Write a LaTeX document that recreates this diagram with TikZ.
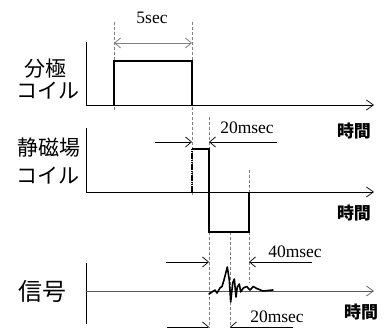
\documentclass[tikz,border=0pt]{standalone}
\usepackage{fontspec}
\setmainfont{Liberation Serif}
\newfontfamily\jp{Noto Sans CJK JP}
\usetikzlibrary{arrows.meta}
\begin{document}
\begin{tikzpicture}[x=1pt,y=-1pt,
  vaxis/.style={line width=0.9pt},
  taxis/.style={line width=0.9pt,-{Straight Barb[length=7pt,width=10pt,line width=0.7pt]}},
  pulse/.style={line width=2.6pt,line join=miter},
  guide/.style={gray,line width=0.9pt,dash pattern=on 3pt off 2pt},
  dim/.style={line width=0.7pt,-{Straight Barb[length=6pt,width=10pt,line width=0.7pt]}},
  lab/.style={font=\jp\fontsize{21}{21}\selectfont,inner sep=0pt},
  tlab/.style={font=\jp\bfseries\fontsize{17}{17}\selectfont,inner sep=0pt},
  num/.style={font=\fontsize{17.5}{17.5}\selectfont,inner sep=0pt}]
\useasboundingbox (0,0) rectangle (392,328);
% ---------- coordinates ----------
\coordinate (v1t) at (86,42);   \coordinate (o1) at (86,105);  \coordinate (e1) at (374,105);
\coordinate (v2t) at (86,128);  \coordinate (o2) at (86,192);  \coordinate (e2) at (374,192);
\coordinate (v3t) at (86,263);  \coordinate (v3b) at (86,324);
\coordinate (o3) at (86,291);   \coordinate (e3) at (374,291);
% pulse 1
\coordinate (p1a) at (114,105); \coordinate (p1b) at (114,61);
\coordinate (p1c) at (192,61);  \coordinate (p1d) at (192,105);
% pulse 2
\coordinate (p2a) at (192,192); \coordinate (p2b) at (192,149);
\coordinate (p2c) at (209,149); \coordinate (p2d) at (209,232);
\coordinate (p2e) at (249,232); \coordinate (p2f) at (249,192);
% guides
\coordinate (g1t) at (114,22);  \coordinate (g1b) at (114,110);
\coordinate (g2t) at (192,22);  \coordinate (g2b) at (192,196);
\coordinate (g3t) at (209,117); \coordinate (g3b) at (209,328);
\coordinate (g4t) at (249,170); \coordinate (g4m) at (249,192);
\coordinate (g4u) at (249,232); \coordinate (g4b) at (249,283);
\coordinate (g5t) at (230,232); \coordinate (g5b) at (230,328);
% dimension arrows
\coordinate (d5l) at (114,43);  \coordinate (d5r) at (192,43);
\coordinate (d20a) at (155,142); \coordinate (d20b) at (192,142);
\coordinate (d20c) at (277,142); \coordinate (d20d) at (209,142);
\coordinate (d40a) at (166,262); \coordinate (d40b) at (209,262);
\coordinate (d40c) at (312,262); \coordinate (d40d) at (249,262);
\coordinate (d2a) at (167,327);  \coordinate (d2b) at (209,327);
\coordinate (d2c) at (293,327);  \coordinate (d2d) at (230,327);
% ---------- guides ----------
\draw[guide] (g1t) -- (g1b);
\draw[guide] (g2t) -- (g2b);
\draw[guide] (g3t) -- (g3b);
\draw[guide] (g4t) -- (g4m);
\draw[guide] (g4u) -- (g4b);
\draw[guide] (g5t) -- (g5b);
% ---------- axes ----------
\draw[vaxis] (v1t) -- (o1);
\draw[taxis] (o1) -- (e1);
\draw[vaxis] (v2t) -- (o2);
\draw[taxis] (o2) -- (e2);
\draw[vaxis] (v3t) -- (v3b);
\draw[taxis,draw=black!65] (o3) -- (e3);
% ---------- pulses ----------
\draw[pulse] (p1a) -- (p1b) -- (p1c) -- (p1d);
\draw[pulse,line width=2.2pt,dash pattern=on 1.6pt off 0.6pt] (p2a) -- (p2b);
\draw[pulse] (p2b) -- (p2c) -- (p2d) -- (p2e) -- (p2f);
% ---------- signal ----------
\draw[line width=1.6pt,line join=round,line cap=round]
  (209,294) -- (215,290) -- (217,293) -- (220,288) -- (222,286.5) -- (224,280)
  -- (227.3,267) -- (229.3,280) -- (230.7,302) -- (232.7,283) -- (234.3,279)
  -- (236,297) -- (237.3,287) -- (239.3,284) -- (240.7,292) -- (243.3,288)
  -- (246.7,286.5) -- (250,290) -- (253.3,286.5) -- (256.7,288.5) -- (263,291) -- (273,290);
% ---------- dimension arrows ----------
\draw[line width=0.8pt,gray,{Straight Barb[length=6pt,width=10pt,line width=0.8pt]}-{Straight Barb[length=6pt,width=10pt,line width=0.8pt]}] (d5l) -- (d5r);
\draw[dim] (d20a) -- (d20b);
\draw[dim] (d20c) -- (d20d);
\draw[dim] (d40a) -- (d40b);
\draw[dim] (d40c) -- (d40d);
\draw[dim] (d2a) -- (d2b);
\draw[dim] (d2c) -- (d2d);
% ---------- labels ----------
\node[num] (t5) at (152,18) {5sec};
\node[num] (t20a) at (247,128) {20msec};
\node[num] (t40) at (295,252) {40msec};
\node[num] (t20b) at (277,317) {20msec};
\node[lab] (l1a) at (45,69) {分極};
\node[lab] (l1b) at (48,91) {コイル};
\node[lab] (l2a) at (49,148) {静磁場};
\node[lab] (l2b) at (48,176) {コイル};
\node[lab,font=\jp\fontsize{24}{24}\selectfont] (l3) at (43,291) {信号};
\node[tlab] (tt1) at (354,131) {時間};
\node[tlab] (tt2) at (354,213) {時間};
\node[tlab] (tt3) at (361,312) {時間};
\end{tikzpicture}
\end{document}
